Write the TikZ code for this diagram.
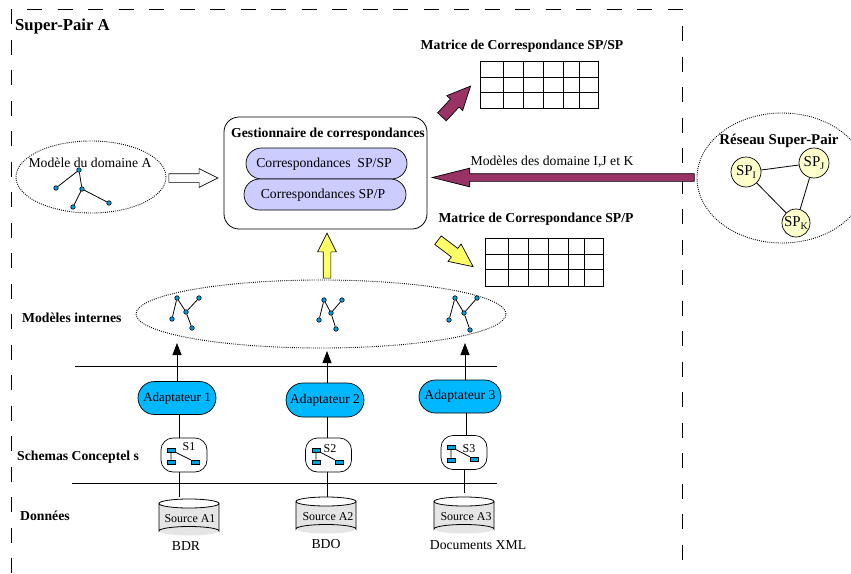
\documentclass[tikz,border=0pt]{standalone}
\usepackage{fontspec}
\setmainfont{Liberation Serif}
\usetikzlibrary{shapes.geometric,shapes.arrows,shapes.misc,arrows.meta}
\definecolor{plum}{HTML}{993366}
\definecolor{lyellow}{HTML}{FFFF66}
\definecolor{pale}{HTML}{FFFFCC}
\definecolor{lilac}{HTML}{CCCCFF}
\definecolor{cyanb}{HTML}{00B8FF}
\definecolor{dot}{HTML}{00A0E0}
\newcommand{\fs}[1]{\fontsize{#1}{#1}\selectfont}
\newcommand{\can}[3]{% left x, top y, name
  \path[fill=black!10] (#1,#2+4.5) arc[start angle=180,end angle=0,x radius=30,y radius=4.5] -- (#1+60,#2+32) arc[start angle=0,end angle=180,x radius=30,y radius=4.5] -- cycle;
  \draw[line] (#1,#2+4.5) arc[start angle=180,end angle=540,x radius=30,y radius=4.5];
  \draw[line] (#1,#2+4.5) -- (#1,#2+32) arc[start angle=180,end angle=360,x radius=30,y radius=4.5] -- (#1+60,#2+4.5);
}
\tikzset{
  x=1pt,y=-1pt,
  lab/.style={inner sep=0pt,font=\fs{13.7}},
  blab/.style={inner sep=0pt,font=\fs{13.7}\bfseries},
  dotell/.style={ellipse,draw,line width=.9pt,dash pattern=on .9pt off 1.2pt,inner sep=0pt},
  blockarrow/.style={single arrow,draw,line width=.7pt,inner xsep=0pt,single arrow head indent=0pt},
  pill/.style={rounded rectangle,draw,line width=.7pt,inner sep=0pt},
  tn/.style={circle,draw,fill=dot,line width=.6pt,inner sep=0pt,minimum size=4.5pt},
  ent/.style={rectangle,draw,fill=dot,line width=.6pt,inner sep=0pt,minimum width=8pt,minimum height=4pt},
  schema/.style={rectangle,rounded corners=12pt,draw,fill=white,line width=.7pt,inner sep=0pt,minimum width=46pt,minimum height=34pt},
  spc/.style={circle,draw,fill=pale,line width=.7pt,inner sep=0pt,font=\fs{15}},
  line/.style={line width=.8pt},
  tip/.style={-{Triangle[length=12pt,width=9pt]},line width=.8pt},
}
\begin{document}
\begin{tikzpicture}
\clip (0,0) rectangle (851,573);
% outer frame
\coordinate (f1) at (11.5,9); \coordinate (f2) at (11.5,573);
\coordinate (f3) at (27,9); \coordinate (f4) at (683,9);
\coordinate (f5) at (682,26); \coordinate (f6) at (682,573);
\draw[line width=1pt,dash pattern=on 15.3pt off 15.2pt] (f1) -- (f2);
\draw[line width=1pt,dash pattern=on 15.3pt off 15.2pt] (f3) -- (f4);
\draw[line width=1pt,dash pattern=on 15.3pt off 15.2pt] (f5) -- (f6);
\node[blab,font=\fs{16.7}\bfseries,anchor=west] (sp) at (15,26) {Super-Pair A};
% matrices
\node[blab] (m1t) at (522,46) {Matrice de Correspondance SP/SP};
\draw[line] (480,61) rectangle (598,108);
\foreach \x in {503,523,543,563,579} \draw[line] (\x,61) -- (\x,108);
\foreach \y in {77,92} \draw[line] (480,\y) -- (598,\y);
\node[blab] (m2t) at (536,219) {Matrice de Correspondance SP/P};
\draw[line] (485,238) rectangle (603,286);
\foreach \x in {508,528,548,568,584} \draw[line] (\x,238) -- (\x,286);
\foreach \y in {254,269} \draw[line] (485,\y) -- (603,\y);
% manager
\node[rectangle,rounded corners=15pt,draw,line width=.8pt,minimum width=203pt,minimum height=112pt,inner sep=0pt] (gest) at (325.5,173) {};
\node[blab] (gt) at (328,134) {Gestionnaire de correspondances};
\node[pill,fill=lilac,minimum width=161pt,minimum height=31pt] (p1) at (326.5,163.5) {};
\node[pill,fill=lilac,minimum width=162pt,minimum height=31pt] (p2) at (325,194.5) {};
\node[lab] (p1t) at (324,164) {Correspondances\ \ SP/SP};
\node[lab] (p2t) at (323,195) {Correspondances SP/P};
% block arrows
\node[blockarrow,fill=white,inner ysep=4pt,minimum height=49pt,single arrow head extend=5pt,single arrow tip angle=53] (aw) at (189,178) {};
\node[blockarrow,fill=plum,rotate=47,inner ysep=5.5pt,minimum height=42pt,single arrow head extend=5pt,single arrow tip angle=50] (ap1) at (452,106) {};
\node[blockarrow,fill=plum,rotate=180,inner ysep=3.5pt,minimum height=262pt,single arrow head extend=5.5pt,single arrow tip angle=28] (ap2) at (571,177.5) {};
\node[blockarrow,fill=lyellow,rotate=90,inner ysep=3.5pt,minimum height=45pt,single arrow head extend=5.5pt,single arrow tip angle=53] (ay1) at (327,259.5) {};
\node[blockarrow,fill=lyellow,rotate=-37,inner ysep=5pt,minimum height=44pt,single arrow head extend=5.5pt,single arrow tip angle=50] (ay2) at (451,250) {};
\node[lab] (mdl) at (552,162) {Modèles des domaine I,J et K};
% domain A
\node[dotell,minimum width=150pt,minimum height=72pt] (dA) at (91,177) {};
\node[lab] (dAt) at (90,163) {Modèle du domaine A};
\node[tn] (a1) at (79,170) {}; \node[tn] (a2) at (56,188) {}; \node[tn] (a3) at (82,189) {}; \node[tn] (a4) at (73,207) {}; \node[tn] (a5) at (109,203) {};
\draw[line] (a1)--(a2) (a1)--(a3) (a3)--(a4) (a3)--(a5);
% network
\node[dotell,minimum width=170pt,minimum height=130pt] (net) at (782,178) {};
\node[blab,font=\fs{14.9}\bfseries] (nett) at (779,141) {Réseau Super-Pair};
\node[spc,minimum size=30pt] (si) at (746,172) {SP\raisebox{-3pt}{\fs{10}I}};
\node[spc,minimum size=30pt] (sj) at (814,163) {SP\raisebox{-3pt}{\fs{10}J}};
\node[spc,minimum size=28pt] (sk) at (796,223) {SP\raisebox{-3pt}{\fs{10}K}};
\draw[line] (si)--(sj) (sj)--(sk) (si)--(sk);
% internal models
\node[dotell,minimum width=370pt,minimum height=68pt] (int) at (321,314) {};
\node[blab,anchor=west] (intl) at (22,318) {Modèles internes};
\foreach \n/\ax/\ay/\bx/\by/\cx/\cy/\dx/\dy/\ex/\ey in {t/177/298/199/298/186/312/172/319/192/328, u/324/300/342/300/331/313/319/320/336/329, v/455/298/477/298/464/313/449/320/470/330}{
  \node[tn] (\n a) at (\ax,\ay) {}; \node[tn] (\n b) at (\bx,\by) {}; \node[tn] (\n c) at (\cx,\cy) {}; \node[tn] (\n d) at (\dx,\dy) {}; \node[tn] (\n e) at (\ex,\ey) {};
  \draw[line] (\n a)--(\n d) (\n a)--(\n c) (\n c)--(\n e) (\n c)--(\n b);
}
% rules
\coordinate (r1a) at (75,366); \coordinate (r1b) at (497,366);
\coordinate (r2a) at (72,483); \coordinate (r2b) at (497,483);
\draw[line] (r1a)--(r1b); \draw[line] (r2a)--(r2b);
% adapters
\node[pill,fill=cyanb,minimum width=78pt,minimum height=33pt,font=\fs{13}] (ad1) at (177,398) {Adaptateur 1};
\node[pill,fill=cyanb,minimum width=78pt,minimum height=34pt,font=\fs{13.4}] (ad2) at (325,400) {Adaptateur 2};
\node[pill,fill=cyanb,minimum width=82pt,minimum height=33pt,font=\fs{13.7}] (ad3) at (460,396.5) {Adaptateur 3};
\coordinate (i1) at (177,343); \coordinate (i2) at (327,351); \coordinate (i3) at (465,343);
\draw[tip] (ad1.north -| i1) -- (i1);
\draw[tip] (ad2.north -| i2) -- (i2);
\draw[tip] (ad3.north -| i3) -- (i3);
% schemas
\node[blab,anchor=west] (scl) at (17,457) {Schemas Conceptel s};
\node[blab,anchor=west] (dol) at (20,516) {Données};
\node[schema] (s1) at (184,455) {};
\node[schema] (s2) at (328.5,455) {};
\node[schema] (s3) at (464,452.5) {};
\can{159}{499}{c1}
\can{296}{497}{c2}
\can{434}{497}{c3}
\node[inner sep=0pt,font=\fs{12}] (c1t) at (190,519) {Source A1};
\node[inner sep=0pt,font=\fs{12}] (c2t) at (328,517) {Source A2};
\node[inner sep=0pt,font=\fs{12}] (c3t) at (466,517) {Source A3};
\coordinate (x1) at (179,0); \coordinate (x2) at (327,0); \coordinate (x3) at (466,0); \coordinate (x4) at (464,0);
\coordinate (e1) at (179,497); \coordinate (e2) at (327,497); \coordinate (e3) at (464,493);
\draw[line] (ad1.south -| x1) -- (s1.north -| x1);
\draw[line] (ad2.south -| x2) -- (s2.north -| x2);
\draw[line] (ad3.south -| x3) -- (s3.north -| x3);
\draw[line] (s1.south -| x1) -- (e1);
\draw[line] (s2.south -| x2) -- (e2);
\draw[line] (s3.south -| x4) -- (e3);
\foreach \n/\ax/\ay/\bx/\by/\cx/\cy/\lx/\ly/\t in {p/171/450/171/462/195/462/189/447/S1, q/316/450/316/462/339/462/330/449/S2, r/451/447/451/460/474/459/469/449/S3}{
  \node[ent] (\n a) at (\ax,\ay) {}; \node[ent] (\n b) at (\bx,\by) {}; \node[ent] (\n c) at (\cx,\cy) {};
  \draw[line] (\n a)--(\n b) (\n a)--(\n c);
  \node[inner sep=0pt,font=\fs{12}] (\n l) at (\lx,\ly) {\t};
}
\node[lab] (b1) at (186,546) {BDR};
\node[lab] (b2) at (326,544) {BDO};
\node[lab] (b3) at (478,545) {Documents XML};
\end{tikzpicture}
\end{document}
